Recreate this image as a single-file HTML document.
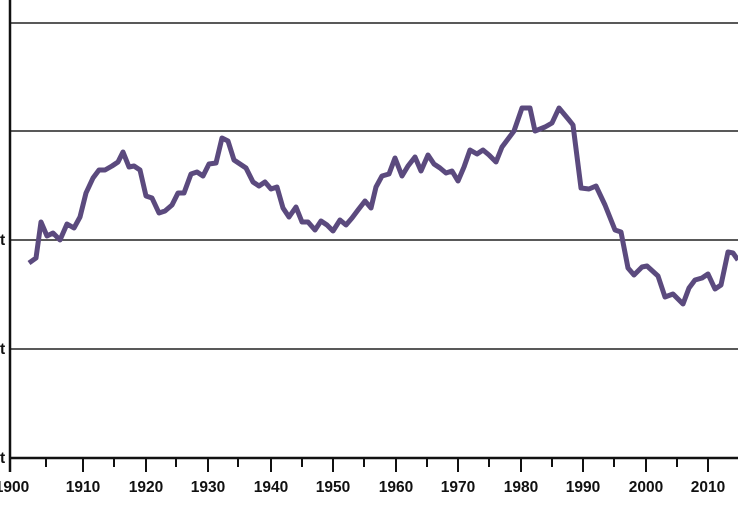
<!DOCTYPE html>
<html><head><style>body{margin:0;background:#fff}svg{display:block}text{font-family:"Liberation Sans",sans-serif;font-weight:bold;font-size:15.5px;fill:#111}</style></head>
<body>
<svg width="738" height="507" viewBox="0 0 738 507">
<g stroke="#222" stroke-width="1.5">
<line x1="10" y1="23" x2="738" y2="23"/>
<line x1="10" y1="131" x2="738" y2="131"/>
<line x1="10" y1="240" x2="738" y2="240"/>
<line x1="10" y1="349" x2="738" y2="349"/>
</g>
<g stroke="#111" stroke-width="2.5">
<line x1="10" y1="0" x2="10" y2="472"/>
<line x1="9" y1="458" x2="738" y2="458"/>
</g>
<g stroke="#111" stroke-width="2">
<line x1="83" y1="458" x2="83" y2="472"/><line x1="146" y1="458" x2="146" y2="472"/><line x1="208" y1="458" x2="208" y2="472"/><line x1="271" y1="458" x2="271" y2="472"/><line x1="333" y1="458" x2="333" y2="472"/><line x1="396" y1="458" x2="396" y2="472"/><line x1="458" y1="458" x2="458" y2="472"/><line x1="521" y1="458" x2="521" y2="472"/><line x1="583" y1="458" x2="583" y2="472"/><line x1="646" y1="458" x2="646" y2="472"/><line x1="708" y1="458" x2="708" y2="472"/>
<line x1="46" y1="458" x2="46" y2="467"/><line x1="114" y1="458" x2="114" y2="467"/><line x1="176" y1="458" x2="176" y2="467"/><line x1="238" y1="458" x2="238" y2="467"/><line x1="302" y1="458" x2="302" y2="467"/><line x1="364" y1="458" x2="364" y2="467"/><line x1="427" y1="458" x2="427" y2="467"/><line x1="489" y1="458" x2="489" y2="467"/><line x1="552" y1="458" x2="552" y2="467"/><line x1="614" y1="458" x2="614" y2="467"/><line x1="677" y1="458" x2="677" y2="467"/>
</g>
<g text-anchor="middle">
<text x="12" y="492">1900</text><text x="83" y="492">1910</text><text x="146" y="492">1920</text><text x="208" y="492">1930</text><text x="271" y="492">1940</text><text x="333" y="492">1950</text><text x="396" y="492">1960</text><text x="458" y="492">1970</text><text x="521" y="492">1980</text><text x="583" y="492">1990</text><text x="646" y="492">2000</text><text x="708" y="492">2010</text>
</g>
<text x="0" y="245">t</text><text x="0" y="354">t</text><text x="0" y="463">t</text>
<polyline fill="none" stroke="#5b4a7e" stroke-width="5" stroke-linejoin="round" points="29,263 36,258 41,222 47,236 53,233 60,240 67,224 74,228 80,217 86,193 93,178 99,170 105,170 112,166 118,162 123,152 129,167 134,166 140,170 146,196 152,198 159,213 165,211 172,205 178,193 184,193 191,174 197,172 203,176 209,164 216,163 222,138 228,141 234,160 240,164 246,168 253,182 259,186 265,182 271,189 277,187 283,208 289,217 296,207 302,222 308,222 315,230 321,221 327,225 333,231 340,220 346,225 352,218 358,210 365,201 371,208 376,187 382,176 389,174 395,158 402,176 408,166 415,157 421,171 428,155 434,164 440,168 446,173 452,171 458,181 464,167 470,150 477,154 483,150 489,155 496,162 502,147 508,139 514,131 522,108 530,108 535,131 545,127 552,123 559,108 569,120 573,125 581,188 589,189 596,186 605,205 615,230 621,232 628,268 634,275 642,267 647,266 658,276 665,297 673,294 683,304 689,288 695,280 702,278 708,274 715,289 721,285 728,252 733,253 738,260"/>
</svg>
</body></html>
